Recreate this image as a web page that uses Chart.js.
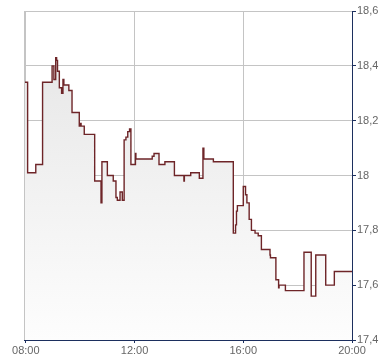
<!DOCTYPE html>
<html><head><meta charset="utf-8">
<script src="https://cdn.jsdelivr.net/npm/chart.js@4/dist/chart.umd.min.js"></script>
<style>html,body{margin:0;padding:0;background:#fff}#w{width:390px;height:364px}</style>
</head><body><div id="w"><canvas id="c"></canvas></div>
<script>
// minutes after 08:00 at which each price step begins
const stepMinutes = [-3,4,22,37,58,62,66,68,70,74,79,82,84,95,102,118,119,122,129,152,166,168,180,193,199,202,208,213,217,221,225,229,232,242,243,279,283,294,307,328,349,350,364,383,391,393,414,458,463,465,467,480,485,488,493,498,506,513,520,539,540,552,558,559,573,614,630,640,662,681,720];
const stepPrices = [18.34,18.01,18.04,18.34,18.40,18.35,18.43,18.42,18.38,18.32,18.30,18.35,18.33,18.31,18.23,18.18,18.19,18.18,18.15,17.98,17.90,18.05,18.00,17.98,17.92,17.91,17.94,17.91,18.13,18.14,18.16,18.17,18.04,18.08,18.06,18.07,18.08,18.04,18.05,18.00,17.98,18.00,18.01,17.99,18.10,18.06,18.05,17.79,17.82,17.87,17.89,17.96,17.93,17.90,17.84,17.80,17.79,17.78,17.73,17.71,17.70,17.62,17.59,17.60,17.58,17.72,17.56,17.71,17.60,17.65,17.65];
const xTickValues = [0,240,480,720];
const xTickLabels = ['08:00','12:00','16:00','20:00'];
const yTickValues = [17.4,17.6,17.8,18.0,18.2,18.4,18.6];
const yTickLabels = ['17,4','17,6','17,8','18','18,2','18,4','18,6'];

const points = stepMinutes.map((m,i)=>({x:m,y:stepPrices[i]}));
const navy = '#1c2f5e';
const gridGray = '#c4c4c4';
const labelGray = '#666666';

const leftBorder = {
  id:'leftBorder',
  afterDatasetsDraw(chart){
    const {ctx, chartArea:a} = chart;
    ctx.save();
    ctx.strokeStyle = gridGray; ctx.lineWidth = 1;
    ctx.beginPath(); ctx.moveTo(a.left+0.5, a.top); ctx.lineTo(a.left+0.5, a.bottom); ctx.stroke();
    ctx.restore();
  }
};

new Chart(document.getElementById('c'), {
  type:'line',
  data:{datasets:[{
    data:points,
    stepped:'before',
    borderColor:'#6e2528',
    borderWidth:1.4,
    pointRadius:0,
    fill:'start',
    backgroundColor(ctx){
      const ch = ctx.chart, a = ch.chartArea;
      if(!a) return 'rgba(0,0,0,0)';
      const g = ch.ctx.createLinearGradient(0,a.top,0,a.bottom);
      g.addColorStop(0,'#e4e4e4');
      g.addColorStop(1,'#fdfdfd');
      return g;
    }
  }]},
  options:{
    responsive:true, maintainAspectRatio:false, animation:false,
    layout:{padding:{left:24,top:11,right:0,bottom:0}},
    plugins:{legend:{display:false},tooltip:{enabled:false}},
    scales:{
      x:{
        type:'linear', min:-4, max:720,
        afterBuildTicks(s){ s.ticks = xTickValues.map(v=>({value:v})); },
        afterFit(s){ s.height = 24; },
        ticks:{ autoSkip:false, maxRotation:0, padding:1, color:labelGray,
          font:{family:'"Liberation Sans", Arial, sans-serif', size:11},
          callback(v){ const i = xTickValues.indexOf(v); return i>=0 ? xTickLabels[i] : ''; } },
        grid:{ color:gridGray, lineWidth:1, tickColor:navy, tickLength:3, drawOnChartArea:true },
        border:{ color:navy, width:1 }
      },
      y:{
        position:'right', min:17.4, max:18.6,
        afterBuildTicks(s){ s.ticks = yTickValues.map(v=>({value:v})); },
        afterFit(s){ s.width = 38; },
        ticks:{ padding:1, color:labelGray,
          font:{family:'"Liberation Sans", Arial, sans-serif', size:11},
          callback(v){ const i = yTickValues.findIndex(t=>Math.abs(t-v)<1e-6); return i>=0 ? yTickLabels[i] : ''; } },
        grid:{ color:gridGray, lineWidth:1, tickColor:navy, tickLength:4 },
        border:{ color:navy, width:1 }
      }
    }
  },
  plugins:[leftBorder]
});
</script>
</body></html>
